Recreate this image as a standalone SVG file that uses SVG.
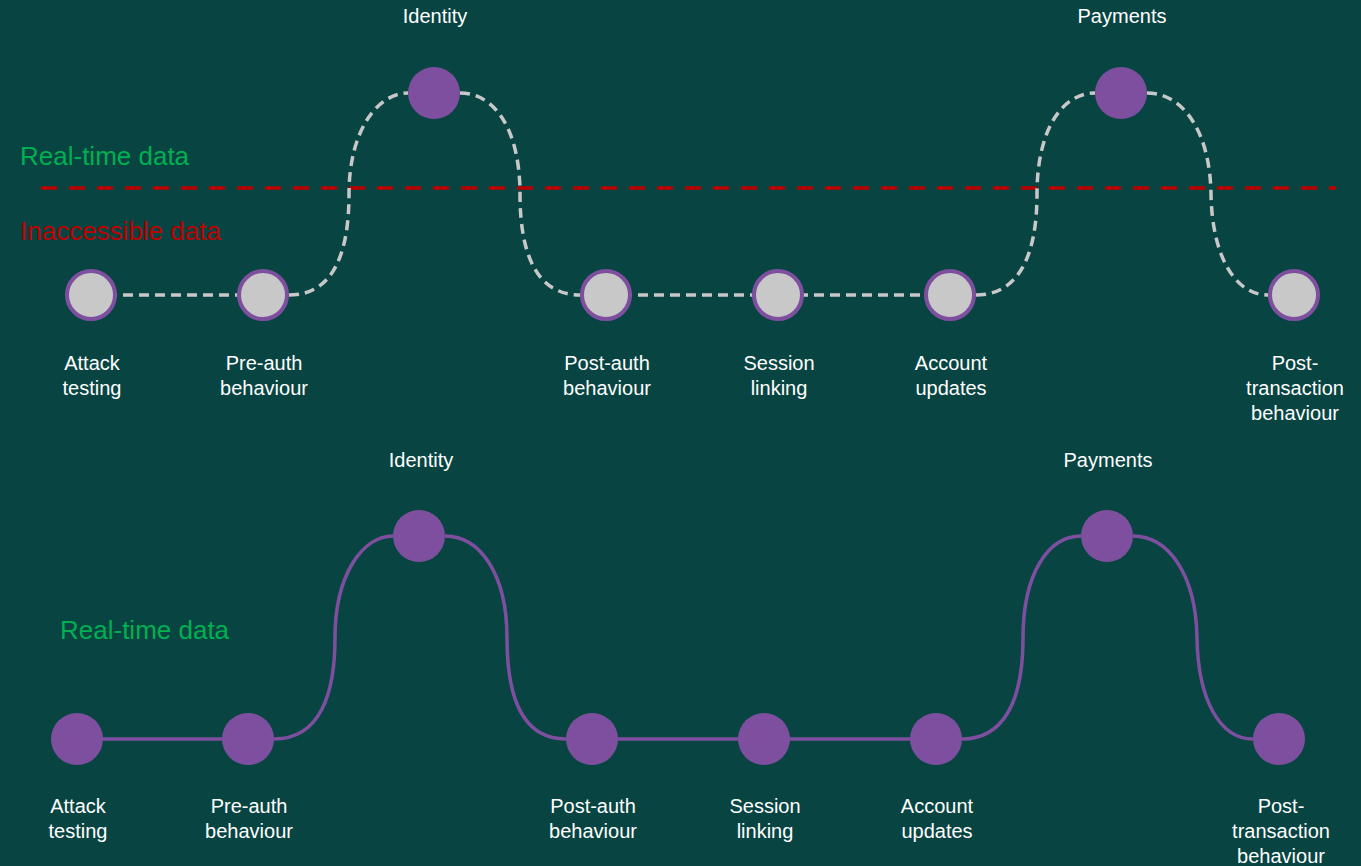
<svg xmlns="http://www.w3.org/2000/svg" width="1361" height="866" viewBox="0 0 1361 866">
<style>
.lbl{font-family:"Liberation Sans",Arial,sans-serif;font-size:20px;fill:#ffffff;text-anchor:middle}
.side{font-family:"Liberation Sans",Arial,sans-serif;font-size:26px}
.dash{fill:none;stroke:#c8c8c8;stroke-width:3.5;stroke-dasharray:10 6}
.solid{fill:none;stroke:#7f4f9f;stroke-width:3.5}
.gnode{fill:#c8c8c8;stroke:#7f4f9f;stroke-width:4}
.pnode{fill:#7f4f9f}
</style>
<rect width="1361" height="866" fill="#074442"/>
<g id="legend">
<text class="side" x="20" y="165" fill="#00b050">Real-time data</text>
<line x1="41" y1="188" x2="1336" y2="188" stroke="#c00000" stroke-width="3.5" stroke-dasharray="16 12"/>
<text class="side" x="20" y="240" fill="#c00000">Inaccessible data</text>
<text class="side" x="60" y="639" fill="#00b050">Real-time data</text>
</g>
<g id="connectors">
<path class="dash" d="M91,295 H263"/>
<path class="dash" d="M289,295 C335,295 349,250 349,194 C349,130 378,93 408,93"/>
<path class="dash" d="M460,93 C495,93 520,130 520,194 C520,260 540,295 580,295"/>
<path class="dash" d="M606,295 H950"/>
<path class="dash" d="M976,295 C1016,295 1037,260 1037,194 C1037,130 1062,93 1095,93"/>
<path class="dash" d="M1147,93 C1182,93 1210,130 1211,194 C1212,256 1235,295 1268,295"/>
<path class="solid" d="M77,739 H248"/>
<path class="solid" d="M274,739 C320,739 335,694 335,638 C335,574 363,536 393,536"/>
<path class="solid" d="M445,536 C480,536 507,574 507,638 C507,704 526,739 566,739"/>
<path class="solid" d="M592,739 H936"/>
<path class="solid" d="M962,739 C1002,739 1023,704 1023,638 C1023,574 1048,536 1081,536"/>
<path class="solid" d="M1133,536 C1168,536 1196,574 1197,638 C1198,700 1220,739 1253,739"/>
</g>
<g id="t-attack"><circle class="gnode" cx="91" cy="295" r="24"/><text class="lbl" x="92" y="370">Attack</text><text class="lbl" x="92" y="395">testing</text></g>
<g id="t-preauth"><circle class="gnode" cx="263" cy="295" r="24"/><text class="lbl" x="264" y="370">Pre-auth</text><text class="lbl" x="264" y="395">behaviour</text></g>
<g id="t-identity"><circle class="pnode" cx="434" cy="93" r="26"/><text class="lbl" x="435" y="23">Identity</text></g>
<g id="t-postauth"><circle class="gnode" cx="606" cy="295" r="24"/><text class="lbl" x="607" y="370">Post-auth</text><text class="lbl" x="607" y="395">behaviour</text></g>
<g id="t-session"><circle class="gnode" cx="778" cy="295" r="24"/><text class="lbl" x="779" y="370">Session</text><text class="lbl" x="779" y="395">linking</text></g>
<g id="t-account"><circle class="gnode" cx="950" cy="295" r="24"/><text class="lbl" x="951" y="370">Account</text><text class="lbl" x="951" y="395">updates</text></g>
<g id="t-payments"><circle class="pnode" cx="1121" cy="93" r="26"/><text class="lbl" x="1122" y="23">Payments</text></g>
<g id="t-posttx"><circle class="gnode" cx="1294" cy="295" r="24"/><text class="lbl" x="1295" y="370">Post-</text><text class="lbl" x="1295" y="395">transaction</text><text class="lbl" x="1295" y="420">behaviour</text></g>
<g id="b-attack"><circle class="pnode" cx="77" cy="739" r="26"/><text class="lbl" x="78" y="813">Attack</text><text class="lbl" x="78" y="838">testing</text></g>
<g id="b-preauth"><circle class="pnode" cx="248" cy="739" r="26"/><text class="lbl" x="249" y="813">Pre-auth</text><text class="lbl" x="249" y="838">behaviour</text></g>
<g id="b-identity"><circle class="pnode" cx="419" cy="536" r="26"/><text class="lbl" x="421" y="467">Identity</text></g>
<g id="b-postauth"><circle class="pnode" cx="592" cy="739" r="26"/><text class="lbl" x="593" y="813">Post-auth</text><text class="lbl" x="593" y="838">behaviour</text></g>
<g id="b-session"><circle class="pnode" cx="764" cy="739" r="26"/><text class="lbl" x="765" y="813">Session</text><text class="lbl" x="765" y="838">linking</text></g>
<g id="b-account"><circle class="pnode" cx="936" cy="739" r="26"/><text class="lbl" x="937" y="813">Account</text><text class="lbl" x="937" y="838">updates</text></g>
<g id="b-payments"><circle class="pnode" cx="1107" cy="536" r="26"/><text class="lbl" x="1108" y="467">Payments</text></g>
<g id="b-posttx"><circle class="gnode" cx="1279" cy="739" r="26" style="fill:#7f4f9f;stroke:none"/><text class="lbl" x="1281" y="813">Post-</text><text class="lbl" x="1281" y="838">transaction</text><text class="lbl" x="1281" y="863">behaviour</text></g>
</svg>
